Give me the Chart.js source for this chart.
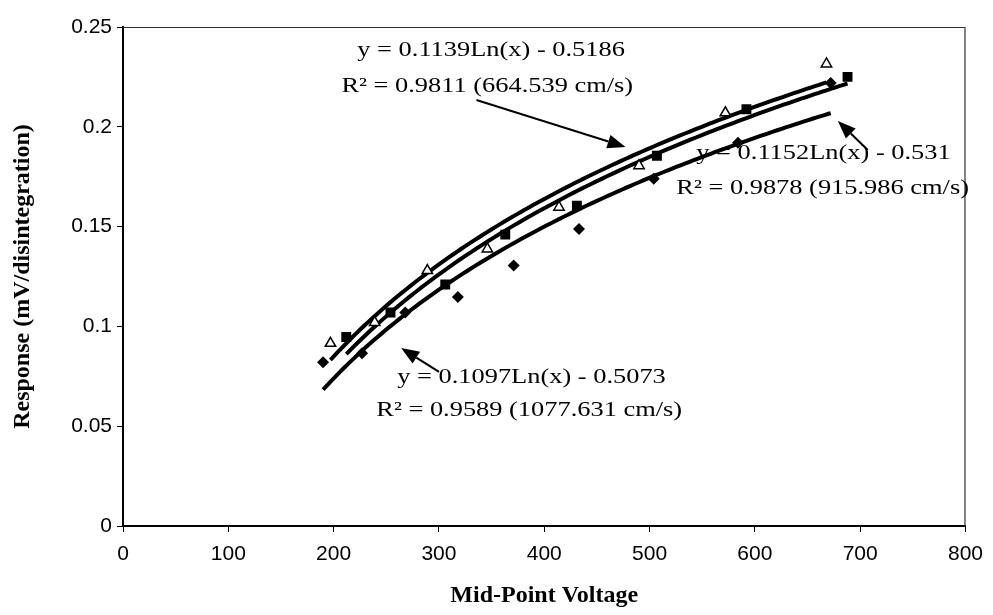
<!DOCTYPE html>
<html lang="en">
<head>
<meta charset="UTF-8">
<title>Response vs Mid-Point Voltage</title>
<script src="https://cdn.jsdelivr.net/npm/chart.js"></script>
<style>
  html, body { margin: 0; padding: 0; background: #fff; }
  #wrap { width: 993px; height: 615px; }
</style>
</head>
<body>
<div id="wrap"><canvas id="chart" width="993" height="615"></canvas></div>
<script>
  const triX = [197, 239, 289, 346, 414, 490, 572, 668];
  const triY = [0.0915, 0.102, 0.128, 0.1388, 0.1597, 0.1805, 0.207, 0.2315];

  const sqX = [212, 254, 306, 363, 431, 507, 592, 688];
  const sqY = [0.0947, 0.107, 0.121, 0.146, 0.1605, 0.1855, 0.2088, 0.225];

  const diaX = [190, 227, 268, 318, 371, 433, 504, 584, 672];
  const diaY = [0.082, 0.0865, 0.107, 0.1147, 0.1305, 0.1488, 0.174, 0.192, 0.222];

  // log trendlines printed on the chart: y = a*ln(x) + b
  const fitSlope = [0.1139, 0.1152, 0.1097];
  const fitIntercept = [-0.5186, -0.531, -0.5073];

  const xTicks = ['0', '100', '200', '300', '400', '500', '600', '700', '800'];
  const yTicks = ['0', '0.05', '0.1', '0.15', '0.2', '0.25'];

  // text boxes and arrows, in data units
  const noteText = [
    'y = 0.1139Ln(x) - 0.5186',
    'R\u00b2 = 0.9811 (664.539 cm/s)',
    'y = 0.1152Ln(x) - 0.531',
    'R\u00b2 = 0.9878 (915.986 cm/s)',
    'y = 0.1097Ln(x) - 0.5073',
    'R\u00b2 = 0.9589 (1077.631 cm/s)'
  ];
  const noteX = [222.5, 207.4, 544.4, 525.4, 260.4, 240.5];
  const noteY = [0.2385, 0.2204, 0.1869, 0.1693, 0.0746, 0.0581];

  const arrowFromX = [335.6, 707.2, 300.1];
  const arrowFromY = [0.2134, 0.1884, 0.0772];
  const arrowToX = [477.2, 678.8, 264.1];
  const arrowToY = [0.1899, 0.2029, 0.0892];

  function pts(xs, ys) {
    return xs.map((x, i) => ({ x: x, y: ys[i] }));
  }

  function trend(k, xs) {
    const lo = Math.min(...xs), hi = Math.max(...xs);
    const out = [];
    for (let x = lo; x <= hi; x += 4) out.push({ x: x, y: fitSlope[k] * Math.log(x) + fitIntercept[k] });
    out.push({ x: hi, y: fitSlope[k] * Math.log(hi) + fitIntercept[k] });
    return out;
  }

  const notesPlugin = {
    id: 'notes',
    afterDatasetsDraw(chart) {
      const { ctx, scales: { x, y }, chartArea } = chart;
      ctx.save();
      // thin box around plot area
      ctx.strokeStyle = '#333';
      ctx.lineWidth = 1.2;
      ctx.beginPath();
      ctx.moveTo(chartArea.left, chartArea.top + 0.5);
      ctx.lineTo(chartArea.right - 0.5, chartArea.top + 0.5);
      ctx.lineTo(chartArea.right - 0.5, chartArea.bottom);
      ctx.stroke();

      ctx.fillStyle = '#000';
      ctx.font = '22px "Liberation Serif", "Times New Roman", serif';
      ctx.textBaseline = 'middle';
      ctx.textAlign = 'left';
      noteText.forEach((t, i) => {
        ctx.save();
        ctx.translate(x.getPixelForValue(noteX[i]), y.getPixelForValue(noteY[i]));
        ctx.scale(1.2, 1);
        ctx.fillText(t, 0, 0);
        ctx.restore();
      });

      ctx.strokeStyle = '#000';
      ctx.lineWidth = 2;
      arrowFromX.forEach((fx, i) => {
        const x0 = x.getPixelForValue(fx), y0 = y.getPixelForValue(arrowFromY[i]);
        const x1 = x.getPixelForValue(arrowToX[i]), y1 = y.getPixelForValue(arrowToY[i]);
        const ang = Math.atan2(y1 - y0, x1 - x0);
        const len = 18, half = 7;
        const bx = x1 - len * Math.cos(ang), by = y1 - len * Math.sin(ang);
        ctx.beginPath();
        ctx.moveTo(x0, y0);
        ctx.lineTo(bx, by);
        ctx.stroke();
        ctx.beginPath();
        ctx.moveTo(x1, y1);
        ctx.lineTo(bx + half * Math.sin(ang), by - half * Math.cos(ang));
        ctx.lineTo(bx - half * Math.sin(ang), by + half * Math.cos(ang));
        ctx.closePath();
        ctx.fill();
      });
      ctx.restore();
    }
  };

  const tickFont = { family: '"Liberation Sans", Arial, sans-serif', size: 21 };
  const titleFont = { family: '"Liberation Serif", "Times New Roman", serif', size: 24, weight: 'bold' };

  new Chart(document.getElementById('chart'), {
    type: 'scatter',
    data: {
      datasets: [
        { label: 'tri', data: pts(triX, triY), pointStyle: 'triangle', pointRadius: 6,
          backgroundColor: '#fff', borderColor: '#000', borderWidth: 1.5, order: 0 },
        { label: 'sq', data: pts(sqX, sqY), pointStyle: 'rect', pointRadius: 7,
          backgroundColor: '#000', borderColor: '#000', borderWidth: 0, order: 0 },
        { label: 'dia', data: pts(diaX, diaY), pointStyle: 'rectRot', pointRadius: 6,
          backgroundColor: '#000', borderColor: '#000', borderWidth: 0, order: 0 },
        { label: 'fit1', data: trend(0, triX), showLine: true, pointRadius: 0,
          borderColor: '#000', borderWidth: 4, tension: 0, order: 1 },
        { label: 'fit2', data: trend(1, sqX), showLine: true, pointRadius: 0,
          borderColor: '#000', borderWidth: 4, tension: 0, order: 1 },
        { label: 'fit3', data: trend(2, diaX), showLine: true, pointRadius: 0,
          borderColor: '#000', borderWidth: 4, tension: 0, order: 1 }
      ]
    },
    options: {
      responsive: false,
      animation: false,
      devicePixelRatio: 1,
      layout: { padding: { top: 27, right: 25, left: 0, bottom: 0 } },
      plugins: { legend: { display: false }, tooltip: { enabled: false } },
      scales: {
        x: {
          type: 'linear', min: 0, max: 800,
          ticks: { stepSize: 100, color: '#000', font: tickFont, padding: 10,
                   maxRotation: 0, callback: (v, i) => xTicks[i] },
          grid: { drawOnChartArea: false, drawTicks: true, tickLength: 6, color: '#000' },
          border: { color: '#000', width: 2 },
          title: { display: true, text: 'Mid-Point Voltage', color: '#000', font: titleFont,
                   padding: { top: 0, bottom: 5 } },
          afterFit: s => { s.height = 89; }
        },
        y: {
          type: 'linear', min: 0, max: 0.25,
          ticks: { stepSize: 0.05, color: '#000', font: tickFont, padding: 5,
                   callback: (v, i) => yTicks[i] },
          grid: { drawOnChartArea: false, drawTicks: true, tickLength: 6, color: '#000' },
          border: { color: '#000', width: 2 },
          title: { display: true, text: 'Response (mV/disintegration)', color: '#000', font: titleFont,
                   padding: { top: 8, bottom: 0 } },
          afterFit: s => { s.width = 123; }
        }
      }
    },
    plugins: [notesPlugin]
  });
</script>
</body>
</html>
